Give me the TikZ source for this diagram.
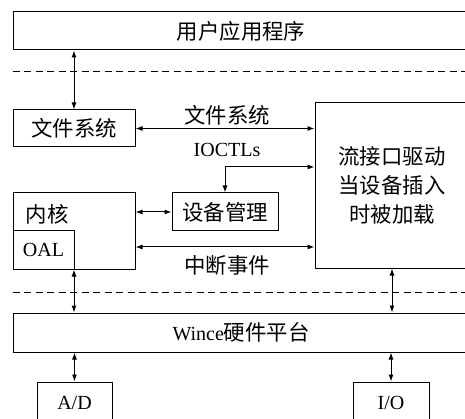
\documentclass[tikz,border=0pt]{standalone}
\usepackage{fontspec}
\usepackage{tikz}
\setmainfont{Liberation Serif}
\newfontfamily\cjk[Scale=1.07]{Noto Sans CJK SC}
\usetikzlibrary{arrows.meta,positioning,calc}

\begin{document}
\begin{tikzpicture}[
    x=1pt, y=-1pt,
    box/.style={
        rectangle,
        draw=black,
        line width=1pt,
        inner sep=0pt,
        align=center,
        font=\fontsize{20}{29}\selectfont
    },
    lbl/.style={font=\fontsize{20}{24}\selectfont, inner sep=0pt},
    dar/.style={{Latex[length=7pt,width=5pt]}-{Latex[length=7pt,width=5pt]},line width=1pt},
    layer/.style={dashed,dash pattern=on 7pt off 4.5pt,line width=1pt}
]
    \useasboundingbox (0,0) rectangle (465,419);
    \clip (0,0) rectangle (465,419);

    % Layers
    \node[box, minimum width=456pt, minimum height=38pt] (app) at (241,31) {\cjk 用户应用程序};
    \node[box, minimum width=456pt, minimum height=39pt] (hw) at (241,332.5) {Wince{\cjk 硬件平台}};
    \draw[layer] (app.west |- 0,72) -- (470,72);
    \draw[layer] (app.west |- 0,292) -- (470,292);

    % Middle blocks
    \node[box, minimum width=122pt, minimum height=37pt] (fs) at (74,128.5) {\cjk 文件系统};
    \node[box, minimum width=154pt, minimum height=165pt] (drv) at (392,185.5) {\cjk 流接口驱动\\\cjk 当设备插入\\\cjk 时被加载};
    \node[box, minimum width=106pt, minimum height=38pt] (devm) at (225,212) {\cjk 设备管理};
    \node[box, minimum width=122pt, minimum height=76pt] (kern) at (74,231) {};
    \node[lbl] (kernlbl) at (47,214) {\cjk 内核};
    \node[box, minimum width=61pt, minimum height=38pt] (oal) at (43.5,250) {OAL};

    % Devices
    \node[box, minimum width=75pt, minimum height=42pt] (ad) at (74.5,403) {A/D};
    \node[box, minimum width=76pt, minimum height=42pt] (io) at (391,403) {I/O};

    \draw[dar] (fs.north) -- (fs.north |- app.south);
    \draw[dar] (fs.east) -- (drv.west |- fs.east);
    \draw[dar] (devm.north) |- (drv.west |- 0,167);
    \draw[dar] (kern.east |- devm.west) -- (devm.west);
    \draw[dar] (kern.east |- 0,247) -- (drv.west |- 0,247);
    \draw[dar] (kern.south) -- (kern.south |- hw.north);
    \draw[dar] (drv.south) -- (drv.south |- hw.north);
    \draw[dar] (ad.north) -- (ad.north |- hw.south);
    \draw[dar] (io.north) -- (io.north |- hw.south);

    % Labels
    \node[lbl] (fslbl) at (227,115) {\cjk 文件系统};
    \node[lbl] (ioctl) at (227,150) {IOCTLs};
    \node[lbl] (irq) at (227,265) {\cjk 中断事件};
\end{tikzpicture}
\end{document}
